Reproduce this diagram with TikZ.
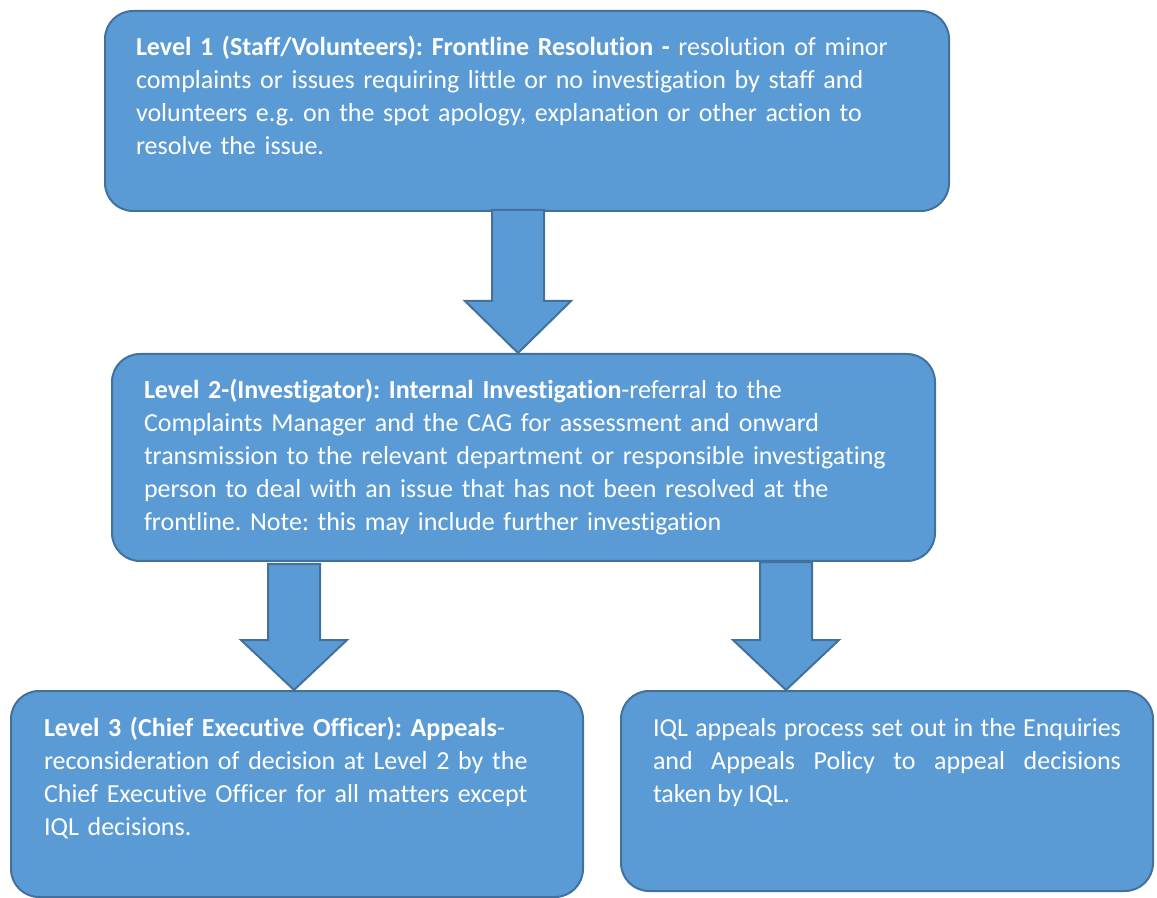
\documentclass[tikz,border=0pt]{standalone}
\usepackage{fontspec}
\setmainfont{Carlito}[Ligatures=NoCommon]
\usepackage{tikz}
\usetikzlibrary{calc}
\definecolor{boxblue}{HTML}{5B9BD5}
\definecolor{boxedge}{HTML}{41719C}

\begin{document}
\begin{tikzpicture}[x=0.5pt, y=-0.5pt,
  stage/.style={draw=boxedge, fill=boxblue, line width=1pt, rounded corners=14pt,
    text=white, font=\fontsize{13}{16.5}\selectfont\frenchspacing, align=left,
    anchor=north west, inner ysep=0pt, text height=22.5pt},
  blockarrow/.style={draw=boxedge, fill=boxblue, line width=1pt}
  ]
  \useasboundingbox (0,0) rectangle (1157,898);

  % Levels
  \node[stage, inner xsep=15.5pt, text width=391pt, text depth=77.5pt] (lvlone) at (104,10)
    {\textbf{Level 1 (Staff/Volunteers): Frontline Resolution -} resolution of minor\\
     complaints or issues requiring little or no investigation by staff and\\
     volunteers e.g. on the spot apology, explanation or other action to\\
     resolve the issue.};
  \node[stage, inner xsep=16pt, text width=379.5pt, text depth=81pt] (lvltwo) at (111,353)
    {\textbf{Level 2-(Investigator): Internal Investigation}-referral to the\\
     Complaints Manager and the CAG for assessment and onward\\
     transmission to the relevant department or responsible investigating\\
     person to deal with an issue that has not been resolved at the\\
     frontline. Note: this may include further investigation};
  \node[stage, inner xsep=16.5pt, text width=253pt, text depth=80.5pt] (lvlthree) at (10,690)
    {\textbf{Level 3 (Chief Executive Officer): Appeals}-\\
     reconsideration of decision at Level 2 by the\\
     Chief Executive Officer for all matters except\\
     IQL decisions.};
  \node[stage, align=justify, inner xsep=16pt, text width=234pt, text depth=77.5pt] (iql) at (620,690)
    {IQL appeals process set out in the Enquiries\linebreak
     and Appeals Policy to appeal decisions\linebreak
     taken by IQL.};

  % Block arrows
  \coordinate (a1s) at (518,0 |- lvlone.south);
  \coordinate (a1t) at (518,0 |- lvltwo.north);
  \draw[blockarrow] ($(a1s)+(-26,-2)$) -- ($(a1t)+(-26,-52)$) -- ($(a1t)+(-53,-52)$) -- (a1t)
    -- ($(a1t)+(53,-52)$) -- ($(a1t)+(26,-52)$) -- ($(a1s)+(26,-2)$) -- cycle;
  \coordinate (a2s) at (294,0 |- lvltwo.south);
  \coordinate (a2t) at (294,0 |- lvlthree.north);
  \draw[blockarrow] ($(a2s)+(-26,2)$) -- ($(a2t)+(-26,-50)$) -- ($(a2t)+(-53,-50)$) -- (a2t)
    -- ($(a2t)+(53,-50)$) -- ($(a2t)+(26,-50)$) -- ($(a2s)+(26,2)$) -- cycle;
  \coordinate (a3s) at (786,0 |- lvltwo.south);
  \coordinate (a3t) at (786,0 |- iql.north);
  \draw[blockarrow] ($(a3s)+(-26,0)$) -- ($(a3t)+(-26,-50)$) -- ($(a3t)+(-53,-50)$) -- (a3t)
    -- ($(a3t)+(53,-50)$) -- ($(a3t)+(26,-50)$) -- ($(a3s)+(26,0)$) -- cycle;

\end{tikzpicture}
\end{document}
